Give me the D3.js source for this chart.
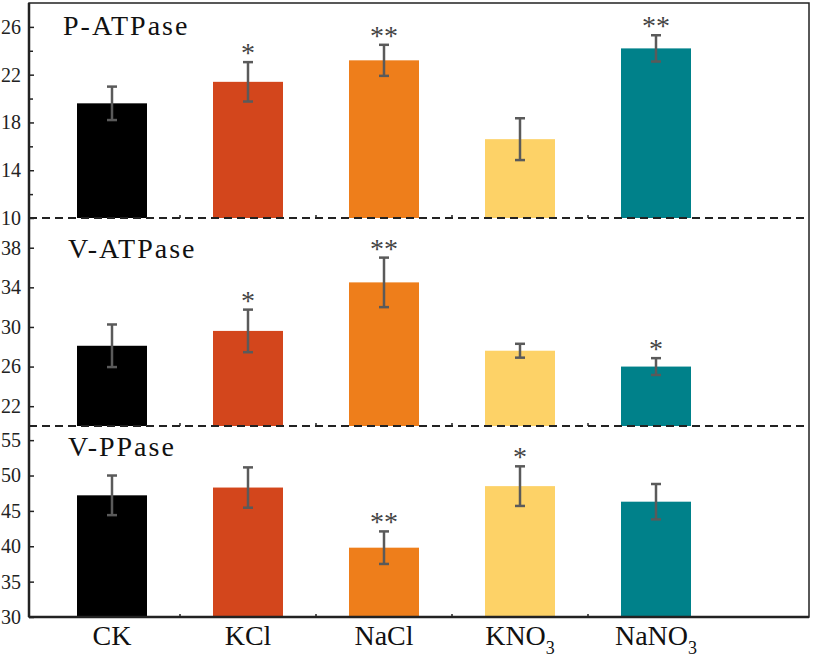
<!DOCTYPE html>
<html><head><meta charset="utf-8">
<script src="https://cdn.jsdelivr.net/npm/d3@7"></script>
<style>body{margin:0;background:#fff}svg{display:block}text{font-family:"Liberation Serif","Times New Roman",serif}</style>
</head><body><svg id="c" width="813" height="659"></svg>
<script>
const categories = ["CK", "KCl", "NaCl", "KNO3", "NaNO3"];
const colors = ["#000000", "#d3461c", "#ee7e1b", "#fdd267", "#00818a"];

const pTitle = "P-ATPase";
const pMean = [19.6, 21.4, 23.2, 16.6, 24.2];
const pErr  = [1.4, 1.65, 1.3, 1.75, 1.1];
const pSig  = ["", "*", "**", "", "**"];
const pTicks = [10, 14, 18, 22, 26];
const pMinor = [12, 16, 20, 24];

const vTitle = "V-ATPase";
const vMean = [28.1, 29.6, 34.5, 27.6, 26.0];
const vErr  = [2.15, 2.15, 2.5, 0.7, 0.85];
const vSig  = ["", "*", "**", "", "*"];
const vTicks = [22, 26, 30, 34, 38];

const ppTitle = "V-PPase";
const ppMean = [47.2, 48.3, 39.8, 48.5, 46.3];
const ppErr  = [2.8, 2.85, 2.3, 2.8, 2.5];
const ppSig  = ["", "", "**", "*", ""];
const ppTicks = [30, 35, 40, 45, 50, 55];

const svg = d3.select("#c");
const L = 29, R = 809, T = 3, B = 617;
const x = d3.scalePoint().domain(categories).range([112, 656]);
const barW = 70;

const panels = [
  {title: pTitle, mean: pMean, err: pErr, sig: pSig, ticks: pTicks, minor: pMinor,
   y: d3.scaleLinear().domain([10, 28]).range([218, T]), tx: 63, ty: 35, dashed: true},
  {title: vTitle, mean: vMean, err: vErr, sig: vSig, ticks: vTicks, minor: [],
   y: d3.scaleLinear().domain([20, 41]).range([426, 218]), tx: 68, ty: 258, dashed: true},
  {title: ppTitle, mean: ppMean, err: ppErr, sig: ppSig, ticks: ppTicks, minor: [],
   y: d3.scaleLinear().domain([30, 57]).range([B, 426]), tx: 68, ty: 456, dashed: false}
];

const mids = categories.slice(1).map((c, i) => (x(categories[i]) + x(c)) / 2);

panels.forEach(p => {
  const g = svg.append("g");
  const base = p.y.domain()[0];
  g.selectAll("rect").data(p.mean).join("rect")
    .attr("x", (d, i) => x(categories[i]) - barW / 2)
    .attr("width", barW)
    .attr("y", d => p.y(d))
    .attr("height", d => p.y(base) - p.y(d))
    .attr("fill", (d, i) => colors[i]);
  const eb = g.selectAll("g.eb").data(p.mean).join("g").attr("class", "eb")
    .attr("stroke", "#5a5a5a").attr("stroke-width", 2.5);
  eb.append("line")
    .attr("x1", (d, i) => x(categories[i])).attr("x2", (d, i) => x(categories[i]))
    .attr("y1", (d, i) => p.y(d - p.err[i])).attr("y2", (d, i) => p.y(d + p.err[i]));
  [1, -1].forEach(s => {
    eb.append("line")
      .attr("x1", (d, i) => x(categories[i]) - 5).attr("x2", (d, i) => x(categories[i]) + 5)
      .attr("y1", (d, i) => p.y(d + s * p.err[i])).attr("y2", (d, i) => p.y(d + s * p.err[i]));
  });
  g.selectAll("text.sig").data(p.mean).join("text").attr("class", "sig")
    .attr("x", (d, i) => x(categories[i]))
    .attr("y", (d, i) => p.y(d + p.err[i]))
    .attr("text-anchor", "middle").attr("font-size", 28).attr("fill", "#444")
    .text((d, i) => p.sig[i]);
  const ax = g.append("g").attr("transform", `translate(${L},0)`)
    .call(d3.axisLeft(p.y).tickValues(p.ticks).tickSize(-5).tickPadding(8).tickFormat(d3.format("d")));
  ax.select(".domain").remove();
  ax.selectAll("text").attr("font-size", 20).attr("fill", "#222")
    .attr("font-family", "Liberation Serif");
  ax.selectAll("line").attr("stroke", "#222").attr("stroke-width", 1.5);
  if (p.minor.length) {
    const mx = g.append("g").attr("transform", `translate(${L},0)`)
      .call(d3.axisLeft(p.y).tickValues(p.minor).tickSize(-4).tickFormat(""));
    mx.select(".domain").remove();
    mx.selectAll("line").attr("stroke", "#222").attr("stroke-width", 1.5);
  }
  g.selectAll("line.xm").data(mids).join("line").attr("class", "xm")
    .attr("x1", d => d).attr("x2", d => d)
    .attr("y1", p.y(base)).attr("y2", p.y(base) - 3)
    .attr("stroke", "#222").attr("stroke-width", 1.5);
  if (p.dashed) {
    g.append("line").attr("x1", L).attr("x2", R)
      .attr("y1", p.y(base)).attr("y2", p.y(base))
      .attr("stroke", "#222").attr("stroke-width", 2).attr("stroke-dasharray", "8,5");
  }
  g.append("text").attr("x", p.tx).attr("y", p.ty).attr("font-size", 28)
    .attr("letter-spacing", 2).attr("fill", "#111")
    .text(p.title);
});

svg.append("rect").attr("x", L).attr("y", T).attr("width", R - L).attr("height", B - T)
  .attr("fill", "none").attr("stroke", "#222").attr("stroke-width", 1.5);
svg.append("line").attr("x1", L).attr("x2", L).attr("y1", T).attr("y2", B)
  .attr("stroke", "#222").attr("stroke-width", 2.5);
svg.append("line").attr("x1", L).attr("x2", R).attr("y1", B).attr("y2", B)
  .attr("stroke", "#222").attr("stroke-width", 2.5);

const xl = svg.selectAll("text.xl").data(categories).join("text").attr("class", "xl")
  .attr("x", d => x(d)).attr("y", 645).attr("text-anchor", "middle")
  .attr("font-size", 28).attr("fill", "#111");
xl.each(function(d) {
  const t = d3.select(this);
  const m = d.match(/^(.*?)(\d+)$/);
  if (m) {
    t.append("tspan").text(m[1]);
    t.append("tspan").attr("font-size", 18).attr("dy", 9).text(m[2]);
  } else t.text(d);
});
</script></body></html>
